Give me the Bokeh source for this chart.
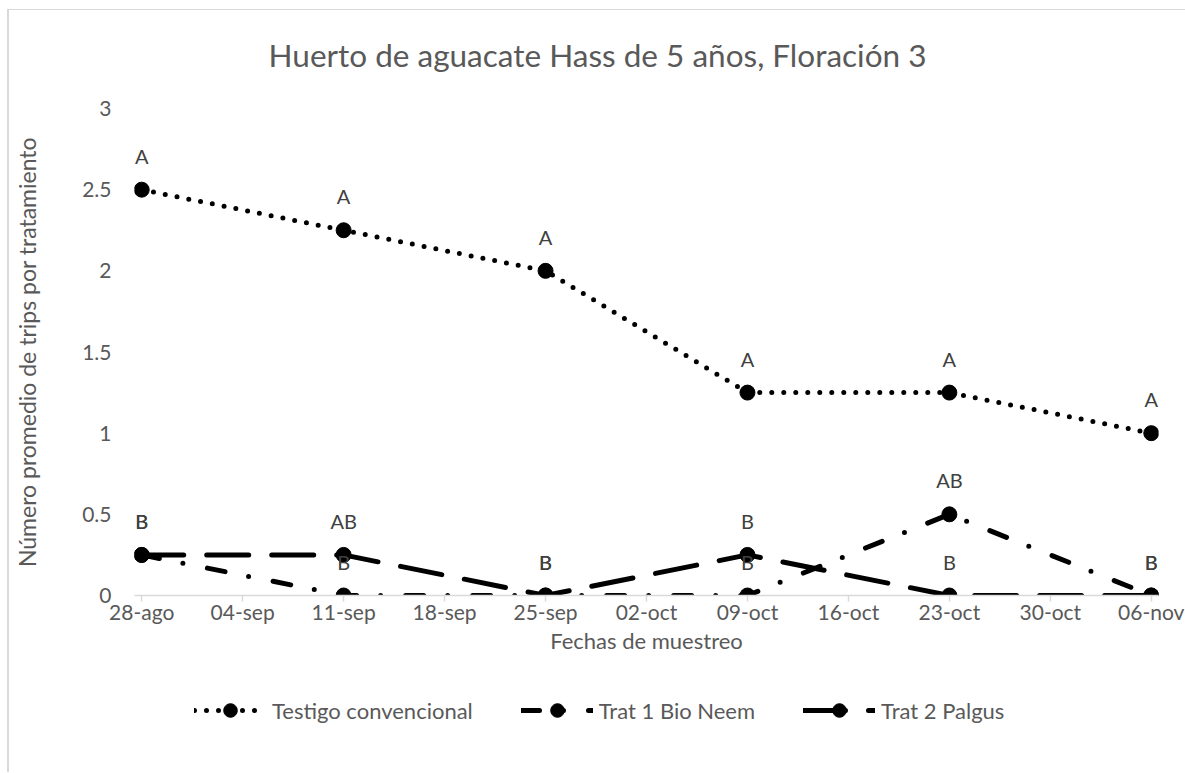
import pandas as pd
from bokeh.plotting import figure
from bokeh.layouts import column
from bokeh.models import ColumnDataSource, FixedTicker, Legend, LegendItem, Range1d, Label
from bokeh.core.properties import value
from bokeh.embed import file_html
from bokeh.resources import INLINE

# ---------------- data ----------------
titulo = "Huerto de aguacate Hass de 5 años, Floración 3"
fechas = ["2019-08-28", "2019-09-11", "2019-09-25", "2019-10-09", "2019-10-23", "2019-11-06"]
testigo = [2.5, 2.25, 2.0, 1.25, 1.25, 1.0]
bio_neem = [0.25, 0.0, 0.0, 0.0, 0.5, 0.0]
palgus = [0.25, 0.25, 0.0, 0.25, 0.0, 0.0]
letras_testigo = ["A", "A", "A", "A", "A", "A"]
letras_bio_neem = ["B", "B", "B", "B", "AB", "B"]
letras_palgus = ["B", "AB", "B", "B", "B", "B"]

x_tick_fechas = ["2019-08-28", "2019-09-04", "2019-09-11", "2019-09-18", "2019-09-25", "2019-10-02",
                 "2019-10-09", "2019-10-16", "2019-10-23", "2019-10-30", "2019-11-06"]
x_tick_labels = ["28-ago", "04-sep", "11-sep", "18-sep", "25-sep", "02-oct",
                 "09-oct", "16-oct", "23-oct", "30-oct", "06-nov"]
y_ticks = [0, 0.5, 1, 1.5, 2, 2.5, 3]
y_tick_labels = ["0", "0.5", "1", "1.5", "2", "2.5", "3"]

series_names = ["Testigo convencional", "Trat 1 Bio Neem", "Trat 2 Palgus"]

# ---------------- helpers ----------------
t0 = pd.Timestamp(fechas[0])
dias = [(pd.Timestamp(f) - t0).days for f in fechas]
tick_dias = [(pd.Timestamp(f) - t0).days for f in x_tick_fechas]

FONT = "Lato"
TXT = "#595959"
GRAY = "#d9d9d9"
W = 1176


def strip(h):
    f = figure(width=W, height=h, output_backend="svg", toolbar_location=None,
               x_range=Range1d(1000, 1001), y_range=Range1d(1000, 1001),
               x_axis_location=None, y_axis_location=None,
               min_border_left=0, min_border_right=0, min_border_top=0, min_border_bottom=0)
    f.outline_line_color = None
    f.grid.visible = False
    f.border_fill_color = "white"
    return f


# title strip
tf = strip(83)
tf.add_layout(Label(x=463, y=39, x_units="screen", y_units="screen", text=titulo,
                    text_font=FONT, text_font_size="31.5px", text_color=TXT,
                    text_align="center", text_baseline="middle"))

p = figure(width=W, height=587, output_backend="svg", toolbar_location=None,
           x_range=Range1d(-0.5, 70.5), y_range=Range1d(0, 3),
           min_border_left=125, min_border_right=27, min_border_top=15, min_border_bottom=85)
p.outline_line_color = None
p.grid.visible = False
p.background_fill_color = "white"
p.border_fill_color = "white"

# x axis
xa = p.xaxis[0]
xa.ticker = FixedTicker(ticks=tick_dias)
xa.major_label_overrides = {d: lab for d, lab in zip(tick_dias, x_tick_labels)}
xa.axis_line_color = GRAY
xa.axis_line_width = 1.5
xa.major_tick_line_color = GRAY
xa.major_tick_line_width = 1.5
xa.major_tick_out = 6
xa.major_tick_in = 0
xa.minor_tick_line_color = None
xa.major_label_text_font = FONT
xa.major_label_text_font_size = "21px"
xa.major_label_text_color = TXT
xa.major_label_standoff = -3
xa.axis_label = "Fechas de muestreo"
xa.axis_label_text_font = FONT
xa.axis_label_text_font_size = "22px"
xa.axis_label_text_font_style = "normal"
xa.axis_label_text_color = TXT
xa.axis_label_standoff = 0

# y axis
ya = p.yaxis[0]
ya.ticker = FixedTicker(ticks=y_ticks)
ya.major_label_overrides = {t: lab for t, lab in zip(y_ticks, y_tick_labels)}
ya.axis_line_color = None
ya.major_tick_line_color = None
ya.minor_tick_line_color = None
ya.major_tick_out = 0
ya.major_tick_in = 0
ya.major_label_text_font = FONT
ya.major_label_text_font_size = "21px"
ya.major_label_text_color = TXT
ya.major_label_standoff = 23
ya.axis_label = "Número promedio de trips por tratamiento"
ya.axis_label_text_font = FONT
ya.axis_label_text_font_size = "23px"
ya.axis_label_text_font_style = "normal"
ya.axis_label_text_color = TXT
ya.axis_label_standoff = 38

# legend strip (series drawn there out of view only feed the legend)
lf = strip(92)

# ---------------- series ----------------
dashes = ["0 12", "18 24 0 25", "42 23"]
valores = [testigo, bio_neem, palgus]
letras = [letras_testigo, letras_bio_neem, letras_palgus]

items = []
text_sources = []
for name, vals, dash, lets in zip(series_names, valores, dashes, letras):
    src = ColumnDataSource(dict(x=dias, y=vals, lab=lets))
    style = dict(line_color="black", line_width=5, line_dash=dash, line_cap="round", line_join="round")
    p.line("x", "y", source=src, **style)
    p.scatter("x", "y", source=src, marker="circle", size=15, fill_color="black", line_color="black")
    ln = lf.line("x", "y", source=src, **style)
    sc = lf.scatter("x", "y", source=src, marker="circle", size=15, fill_color="black", line_color="black")
    items.append(LegendItem(label=name, renderers=[ln, sc]))
    text_sources.append(src)

for src in text_sources:
    p.text("x", "y", text="lab", source=src, text_font=value(FONT), text_font_size="20px",
           text_color="#404040", text_align="center", text_baseline="middle", y_offset=-34)

legend = Legend(items=items, orientation="horizontal", location=(60, 45),
                glyph_width=72, glyph_height=34, label_height=34, label_standoff=6,
                spacing=48, padding=0, margin=0,
                label_text_font=FONT, label_text_font_size="22px", label_text_color=TXT,
                border_line_color=None, background_fill_alpha=0)
lf.add_layout(legend)

layout = column(tf, p, lf, spacing=0)
layout.styles = {"margin-left": "7px", "margin-top": "9px",
                 "border-top": f"1px solid {GRAY}", "border-left": f"2px solid {GRAY}",
                 "border-right": f"1px solid {GRAY}"}

open("out.html", "w").write(file_html(layout, INLINE))
